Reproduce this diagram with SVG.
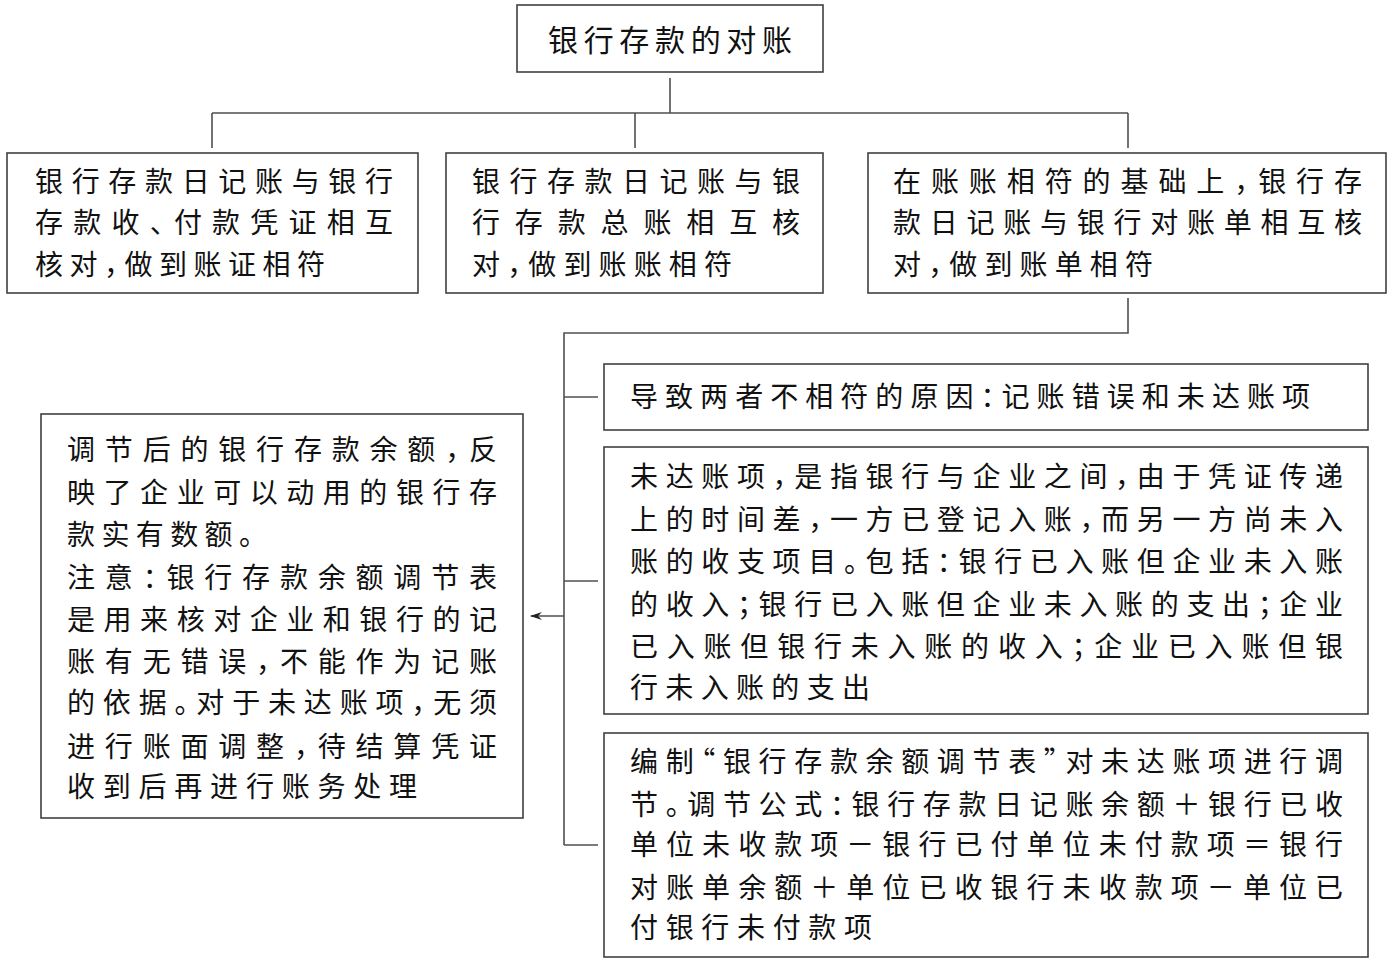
<svg xmlns="http://www.w3.org/2000/svg" width="1392" height="963" viewBox="0 0 1392 963">
<defs>
<style>
.box{fill:#fff;stroke:#404040;stroke-width:1.6}
.ln{fill:none;stroke:#505050;stroke-width:1.6}
text{font-family:"Noto Sans CJK SC","Noto Sans CJK JP",sans-serif;font-size:28px;fill:#111;font-feature-settings:"halt"}
.t{font-size:30px}
</style>
<marker id="arr" viewBox="0 0 12 10" refX="11" refY="5" markerWidth="12" markerHeight="10" markerUnits="userSpaceOnUse" orient="auto">
<path d="M0,1 L12,5 L0,9 L4,5 Z" fill="#222"/>
</marker>
</defs>
<rect width="1392" height="963" fill="#fff"/>
<g id="connectors">
<path class="ln" d="M670,78 V113 M212,113 H1128 M212,113 V148 M635,113 V148 M1128,113 V148"/>
<path class="ln" d="M1128,298 V333 H564 V845 M564,397 H598 M564,581 H598 M564,845 H598"/>
<path class="ln" d="M564,616 H531" marker-end="url(#arr)"/>
</g>
<g id="root">
<rect class="box" x="517" y="5" width="306" height="67"/>
<text class="t" x="548" y="51" textLength="244" lengthAdjust="spacing">银行存款的对账</text>
</g>
<g id="n1">
<rect class="box" x="7" y="153" width="411" height="140"/>
<text x="35" y="192" textLength="358" lengthAdjust="spacing">银行存款日记账与银行</text>
<text x="35" y="233" textLength="358" lengthAdjust="spacing">存款收、付款凭证相互</text>
<text x="35" y="275" textLength="290" lengthAdjust="spacing">核对，做到账证相符</text>
</g>
<g id="n2">
<rect class="box" x="446" y="153" width="377" height="140"/>
<text x="472" y="192" textLength="328" lengthAdjust="spacing">银行存款日记账与银</text>
<text x="472" y="233" textLength="328" lengthAdjust="spacing">行存款总账相互核</text>
<text x="472" y="275" textLength="260" lengthAdjust="spacing">对，做到账账相符</text>
</g>
<g id="n3">
<rect class="box" x="868" y="153" width="518" height="140"/>
<text x="893" y="192" textLength="469" lengthAdjust="spacing">在账账相符的基础上，银行存</text>
<text x="893" y="233" textLength="469" lengthAdjust="spacing">款日记账与银行对账单相互核</text>
<text x="893" y="275" textLength="260" lengthAdjust="spacing">对，做到账单相符</text>
</g>
<g id="n4">
<rect class="box" x="604" y="364" width="764" height="66"/>
<text x="630" y="407" textLength="680" lengthAdjust="spacing">导致两者不相符的原因：记账错误和未达账项</text>
</g>
<g id="n5">
<rect class="box" x="604" y="447" width="764" height="267"/>
<text x="630" y="487" textLength="713" lengthAdjust="spacing">未达账项，是指银行与企业之间，由于凭证传递</text>
<text x="630" y="530" textLength="713" lengthAdjust="spacing">上的时间差，一方已登记入账，而另一方尚未入</text>
<text x="630" y="572" textLength="713" lengthAdjust="spacing">账的收支项目。包括：银行已入账但企业未入账</text>
<text x="630" y="615" textLength="713" lengthAdjust="spacing">的收入；银行已入账但企业未入账的支出；企业</text>
<text x="630" y="657" textLength="713" lengthAdjust="spacing">已入账但银行未入账的收入；企业已入账但银</text>
<text x="630" y="698" textLength="240" lengthAdjust="spacing">行未入账的支出</text>
</g>
<g id="n6">
<rect class="box" x="604" y="733" width="764" height="224"/>
<text x="630" y="772" textLength="713" lengthAdjust="spacing">编制“银行存款余额调节表”对未达账项进行调</text>
<text x="630" y="815" textLength="713" lengthAdjust="spacing">节。调节公式：银行存款日记账余额＋银行已收</text>
<text x="630" y="855" textLength="713" lengthAdjust="spacing">单位未收款项－银行已付单位未付款项＝银行</text>
<text x="630" y="898" textLength="713" lengthAdjust="spacing">对账单余额＋单位已收银行未收款项－单位已</text>
<text x="630" y="938" textLength="242" lengthAdjust="spacing">付银行未付款项</text>
</g>
<g id="n7">
<rect class="box" x="41" y="414" width="482" height="404"/>
<text x="67" y="460" textLength="430" lengthAdjust="spacing">调节后的银行存款余额，反</text>
<text x="67" y="503" textLength="430" lengthAdjust="spacing">映了企业可以动用的银行存</text>
<text x="67" y="545" textLength="186" lengthAdjust="spacing">款实有数额。</text>
<text x="67" y="588" textLength="430" lengthAdjust="spacing">注意：银行存款余额调节表</text>
<text x="67" y="630" textLength="430" lengthAdjust="spacing">是用来核对企业和银行的记</text>
<text x="67" y="672" textLength="430" lengthAdjust="spacing">账有无错误，不能作为记账</text>
<text x="67" y="713" textLength="430" lengthAdjust="spacing">的依据。对于未达账项，无须</text>
<text x="67" y="757" textLength="430" lengthAdjust="spacing">进行账面调整，待结算凭证</text>
<text x="67" y="797" textLength="350" lengthAdjust="spacing">收到后再进行账务处理</text>
</g>
</svg>
